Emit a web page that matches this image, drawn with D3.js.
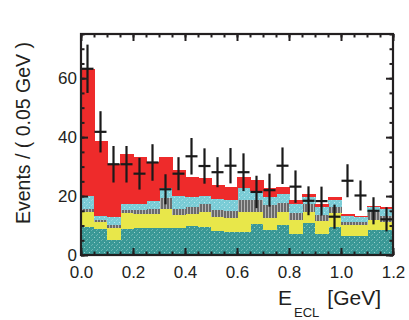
<!DOCTYPE html>
<html>
<head>
<meta charset="utf-8">
<script src="https://cdn.jsdelivr.net/npm/d3@7"></script>
<style>
  body { margin: 0; background: #fff; }
  svg { display: block; font-family: "Liberation Sans", Arial, sans-serif; }
  .axis path { display: none; }
  .axis line { stroke: #231f20; stroke-width: 2; }
  .axis text { fill: #231f20; font-size: 17px; }
</style>
</head>
<body>
<svg id="chart" width="409" height="320"></svg>
<script>
"use strict";

// bin lower edges in GeV (bin width 0.05)
var binLo = [0.00, 0.05, 0.10, 0.15, 0.20, 0.25, 0.30, 0.35, 0.40, 0.45, 0.50, 0.55,
             0.60, 0.65, 0.70, 0.75, 0.80, 0.85, 0.90, 0.95, 1.00, 1.05, 1.10, 1.15];
var binWidth = 0.05;

// stacked background components, bottom to top
var teal   = [9.5, 8.7, 5.2, 8.8, 9.0, 9.1, 9.2, 9.0, 9.8, 9.4, 8.3, 7.9,
              7.9, 10.4, 8.5, 10.2, 7.1, 10.7, 7.1, 9.4, 6.4, 6.4, 8.5, 8.5];
var yellow = [5.1, 2.5, 3.8, 5.3, 5.0, 4.7, 6.4, 4.6, 4.0, 5.3, 4.7, 4.8,
              6.6, 4.1, 3.9, 4.5, 4.8, 4.0, 4.4, 5.0, 3.8, 3.8, 3.4, 2.8];
var gray   = [0.9, 0.7, 1.2, 1.2, 1.3, 1.7, 3.9, 2.0, 2.6, 2.5, 2.3, 2.2,
              4.2, 4.2, 4.6, 3.0, 2.5, 2.6, 2.1, 1.8, 1.1, 1.1, 2.8, 1.9];
var cyan   = [4.5, 1.3, 2.8, 1.9, 2.1, 2.8, 3.2, 4.4, 3.4, 2.9, 3.7, 3.8,
              4.1, 3.0, 2.8, 3.0, 2.9, 2.3, 2.6, 2.5, 1.9, 1.5, 1.5, 2.3];
var red    = [43.0, 25.6, 18.0, 17.1, 16.0, 13.4, 10.4, 8.8, 6.8, 6.1, 4.8, 4.5,
              3.8, 3.7, 3.0, 2.3, 1.4, 1.1, 1.1, 1.1, 0.6, 0.5, 0.5, 0.7];

// data points and their errors
var events = [63.2, 41.8, 30.8, 30.8, 27.6, 31.4, 22.3, 27.6, 33.5, 30.2, 28.1, 30.3,
              28.1, 21.4, 22.0, 30.3, 23.2, 18.4, 18.3, 13.0, 25.2, 20.2, 15.0, 12.1];
var errors = [8.2, 7.0, 6.2, 6.2, 5.4, 6.2, 5.1, 5.6, 6.2, 6.0, 5.1, 6.0,
              6.4, 5.5, 5.6, 6.2, 5.5, 4.9, 4.9, 4.1, 5.6, 5.1, 4.6, 4.1];

var xTicks = [0.0, 0.2, 0.4, 0.6, 0.8, 1.0, 1.2];
var yTicks = [0, 20, 40, 60];

function draw_chart() {
  var svg = d3.select('#chart');
  var margin = { top: 34, right: 16, bottom: 65, left: 81 };
  var width = 409 - margin.left - margin.right;
  var height = 320 - margin.top - margin.bottom;

  var defs = svg.append('defs');

  var pTeal = defs.append('pattern').attr('id', 'p-teal')
    .attr('patternUnits', 'userSpaceOnUse').attr('width', 5).attr('height', 5);
  pTeal.append('rect').attr('width', 5).attr('height', 5).attr('fill', '#3a9896');
  pTeal.append('path').attr('d', 'M0.5,1.5 L1.5,0.5 M3,4 L4,3')
    .attr('stroke', '#a7d6d3').attr('stroke-width', 0.9);

  var pCyan = defs.append('pattern').attr('id', 'p-cyan')
    .attr('patternUnits', 'userSpaceOnUse').attr('width', 5).attr('height', 5);
  pCyan.append('rect').attr('width', 5).attr('height', 5).attr('fill', '#7accd6');
  pCyan.append('path').attr('d', 'M0.5,1.5 L1.5,0.5 M3,4 L4,3')
    .attr('stroke', '#c2e9ee').attr('stroke-width', 0.9);

  var pGray = defs.append('pattern').attr('id', 'p-gray')
    .attr('patternUnits', 'userSpaceOnUse').attr('width', 3).attr('height', 4);
  pGray.append('rect').attr('width', 3).attr('height', 4).attr('fill', '#6a6a6a');
  pGray.append('rect').attr('x', 1).attr('width', 1).attr('height', 4).attr('fill', '#b4b4b4');

  var plot = svg.append('g')
    .attr('transform', 'translate(' + margin.left + ',' + margin.top + ')');

  var xscale = d3.scaleLinear().domain([0, 1.2]).range([0, width]);
  var yscale = d3.scaleLinear().domain([0, 75]).range([height, 0]);

  var table = binLo.map(function (lo, i) {
    return { lo: lo, teal: teal[i], yellow: yellow[i], gray: gray[i],
             cyan: cyan[i], red: red[i] };
  });
  var keys = ['teal', 'yellow', 'gray', 'cyan', 'red'];
  var fills = { teal: 'url(#p-teal)', yellow: '#e8e74a', gray: 'url(#p-gray)',
                cyan: 'url(#p-cyan)', red: '#ee2b2b' };
  var stacked = d3.stack().keys(keys)(table);

  plot.append('g').selectAll('g')
    .data(stacked)
    .join('g')
    .attr('fill', function (s) { return fills[s.key]; })
    .selectAll('rect')
    .data(function (s) { return s; })
    .join('rect')
    .attr('shape-rendering', 'crispEdges')
    .attr('x', function (d) { return xscale(d.data.lo); })
    .attr('width', function (d) { return xscale(d.data.lo + binWidth) - xscale(d.data.lo) + 0.5; })
    .attr('y', function (d) { return yscale(d[1]); })
    .attr('height', function (d) { return yscale(d[0]) - yscale(d[1]); });

  // data points with error bars
  var pts = plot.append('g').attr('stroke', '#1a1a1a').attr('stroke-width', 2.2);
  binLo.forEach(function (lo, i) {
    var cx = xscale(lo + binWidth / 2);
    pts.append('line')
      .attr('x1', xscale(lo) + 0.5).attr('x2', xscale(lo + binWidth) - 0.5)
      .attr('y1', yscale(events[i])).attr('y2', yscale(events[i]));
    pts.append('line')
      .attr('x1', cx).attr('x2', cx)
      .attr('y1', yscale(events[i] + errors[i]))
      .attr('y2', yscale(events[i] - errors[i]));
  });

  // axes: major and minor ticks pointing inward on all four sides
  var xMinor = d3.range(0, 1.2001, 0.05);
  var yMinor = d3.range(0, 75.01, 5);

  plot.append('g').attr('class', 'axis')
    .attr('transform', 'translate(0,' + height + ')')
    .call(d3.axisBottom(xscale).tickValues(xMinor).tickSize(-3.5).tickFormat(''));
  plot.append('g').attr('class', 'axis')
    .attr('transform', 'translate(0,' + height + ')')
    .call(d3.axisBottom(xscale).tickValues(xTicks).tickSize(-7).tickPadding(11)
      .tickFormat(d3.format('.1f')));
  plot.append('g').attr('class', 'axis')
    .call(d3.axisTop(xscale).tickValues(xMinor).tickSize(-3.5).tickFormat(''));
  plot.append('g').attr('class', 'axis')
    .call(d3.axisTop(xscale).tickValues(xTicks).tickSize(-7).tickFormat(''));

  plot.append('g').attr('class', 'axis')
    .call(d3.axisLeft(yscale).tickValues(yMinor).tickSize(-3.5).tickFormat(''));
  plot.append('g').attr('class', 'axis')
    .call(d3.axisLeft(yscale).tickValues(yTicks).tickSize(-7).tickPadding(4));
  plot.append('g').attr('class', 'axis')
    .attr('transform', 'translate(' + width + ',0)')
    .call(d3.axisRight(yscale).tickValues(yMinor).tickSize(-3.5).tickFormat(''));
  plot.append('g').attr('class', 'axis')
    .attr('transform', 'translate(' + width + ',0)')
    .call(d3.axisRight(yscale).tickValues(yTicks).tickSize(-7).tickFormat(''));

  plot.append('rect')
    .attr('width', width).attr('height', height)
    .attr('fill', 'none').attr('stroke', '#231f20').attr('stroke-width', 2.2);

  // axis titles
  svg.append('text')
    .attr('transform', 'translate(30,133) rotate(-90)')
    .attr('text-anchor', 'middle')
    .attr('fill', '#231f20')
    .style('font-size', '19.5px')
    .text('Events / ( 0.05 GeV )');

  var xt = svg.append('text')
    .attr('x', 278).attr('y', 305)
    .attr('fill', '#231f20')
    .style('font-size', '21px');
  xt.append('tspan').text('E');
  xt.append('tspan').attr('dx', 2).attr('dy', 12).style('font-size', '13px').text('ECL');
  xt.append('tspan').attr('dx', 8).attr('dy', -12).text('[GeV]');
}

draw_chart();
</script>
</body>
</html>
